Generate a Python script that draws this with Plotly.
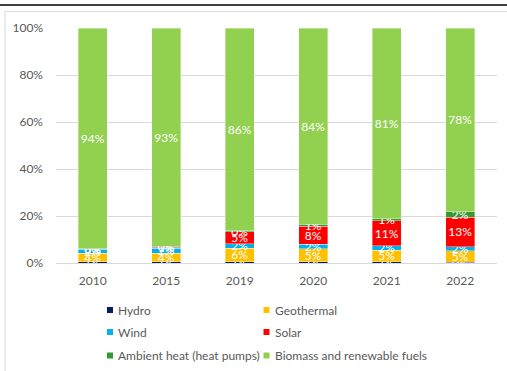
import plotly.graph_objects as go

# Share of renewable heat by source (percent of total)
years = ["2010", "2015", "2019", "2020", "2021", "2022"]
hydro = [0.6, 0.6, 0.6, 0.6, 0.6, 0.4]
geothermal = [3.6, 3.6, 5.7, 5.4, 4.9, 4.9]
wind = [1.7, 2.0, 2.0, 2.0, 1.9, 1.6]
solar = [0.1, 0.6, 5.1, 7.6, 10.6, 12.6]
ambient_heat = [0.1, 0.3, 0.3, 0.8, 0.8, 2.4]
biomass = [93.9, 92.9, 86.3, 83.6, 81.2, 78.1]

series = [
    ("Hydro", hydro, "#002060"),
    ("Geothermal", geothermal, "#FFC000"),
    ("Wind", wind, "#00B0F0"),
    ("Solar", solar, "#FF0000"),
    ("Ambient heat (heat pumps)", ambient_heat, "#339933"),
    ("Biomass and renewable fuels", biomass, "#92D050"),
]

FONT = "Lato, 'Open Sans', sans-serif"
GREY = "#595959"

# Plot-area geometry in pixels, used to place the key below the axes
W, H = 507, 371
ML, MR, MT, MB = 56, 10, 28, 108
PW, PH = W - ML - MR, H - MT - MB


def px_x(x):
    return (x - ML) / PW


def px_y(y):
    return (H - MB - y) / PH


fig = go.Figure()
for name, vals, color in series:
    fig.add_trace(go.Bar(
        x=years,
        y=[v / 100 for v in vals],
        name=name,
        marker=dict(color=color, line=dict(color="rgba(255,255,255,0.6)", width=0.6)),
        text=[f"{v:.0f}%" for v in vals],
        textposition="inside",
        insidetextanchor="middle",
        textangle=0,
        constraintext="none",
        textfont=dict(color="white", size=12, family=FONT),
        showlegend=False,
    ))

# Key: two columns, three rows, small square swatch followed by the name
col_square = [107, 263.5]
row_center = [310, 332, 355.5]
SQ = 6
for i, (name, vals, color) in enumerate(series):
    sx = col_square[i % 2]
    cy = row_center[i // 2]
    fig.add_shape(type="rect", xref="paper", yref="paper",
                  x0=px_x(sx), x1=px_x(sx + SQ),
                  y0=px_y(cy + SQ / 2), y1=px_y(cy - SQ / 2),
                  fillcolor=color, line=dict(width=0))
    fig.add_annotation(text=name, xref="paper", yref="paper",
                       x=px_x(sx + SQ + 3), y=px_y(cy),
                       xanchor="left", yanchor="middle", showarrow=False,
                       font=dict(size=12, color=GREY, family=FONT))

fig.update_layout(
    width=W,
    height=H,
    margin=dict(l=ML, r=MR, t=MT, b=MB, autoexpand=False),
    paper_bgcolor="white",
    plot_bgcolor="white",
    barmode="stack",
    bargap=0.6,
    showlegend=False,
    font=dict(family=FONT, color=GREY, size=12),
    xaxis=dict(
        showgrid=False,
        showline=True,
        linecolor="#d9d9d9",
        linewidth=1,
        ticks="",
        tickfont=dict(size=12, color=GREY),
        ticklabelstandoff=7,
    ),
    yaxis=dict(
        range=[0, 1],
        tickvals=[0, 0.2, 0.4, 0.6, 0.8, 1.0],
        tickformat=".0%",
        showgrid=True,
        gridcolor="#d9d9d9",
        gridwidth=1,
        zeroline=False,
        ticks="",
        tickfont=dict(size=12, color=GREY),
        ticklabelstandoff=12,
    ),
)

# Frame around the chart area and rule above it
fig.add_shape(type="line", xref="paper", yref="paper",
              x0=px_x(0), x1=px_x(W), y0=px_y(5), y1=px_y(5),
              line=dict(color="black", width=1.5))
fig.add_shape(type="line", xref="paper", yref="paper",
              x0=px_x(5), x1=px_x(W), y0=px_y(11.5), y1=px_y(11.5),
              line=dict(color="#e0e0e0", width=1.2))
fig.add_shape(type="line", xref="paper", yref="paper",
              x0=px_x(5), x1=px_x(5), y0=px_y(11.5), y1=px_y(H),
              line=dict(color="#e0e0e0", width=1.2))

fig.write_html("out.html")
